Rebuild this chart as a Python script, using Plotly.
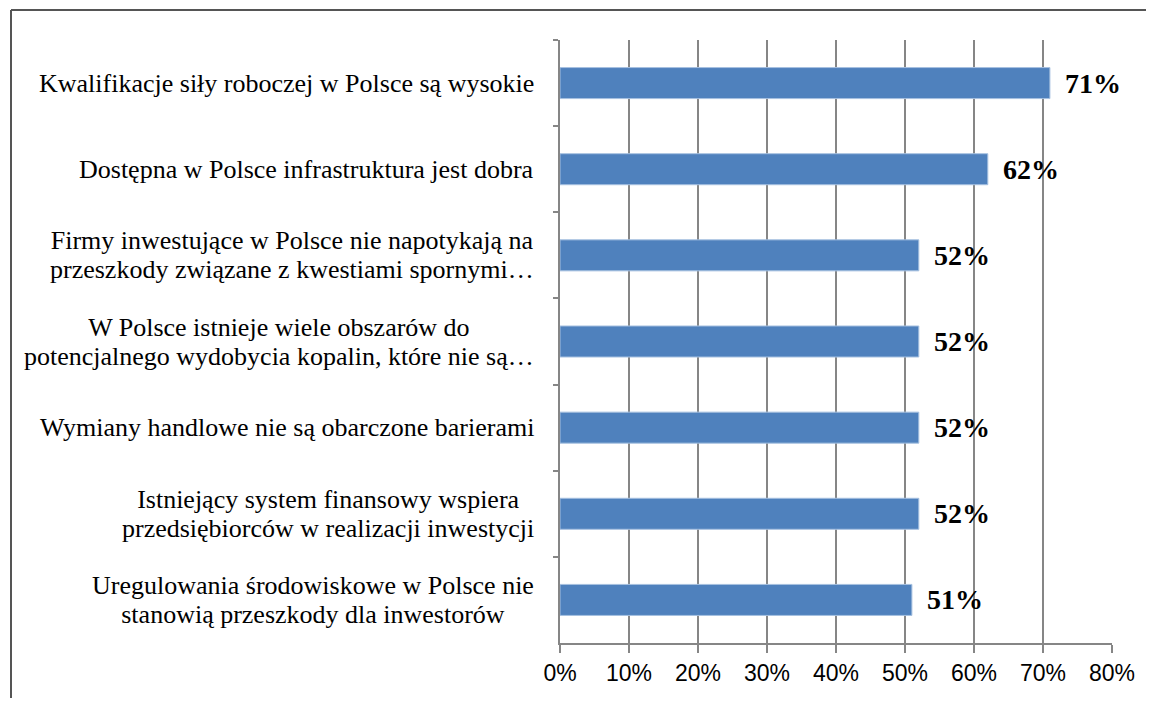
import plotly.graph_objects as go

# categories listed top to bottom
categories = [
    "Kwalifikacje siły roboczej w Polsce są wysokie",
    "Dostępna w Polsce infrastruktura jest dobra",
    "Firmy inwestujące w Polsce nie napotykają na<br>przeszkody związane z kwestiami spornymi…",
    "W Polsce istnieje wiele obszarów do<br>potencjalnego wydobycia kopalin, które nie są…",
    "Wymiany handlowe nie są obarczone barierami",
    "Istniejący system finansowy wspiera<br>przedsiębiorców w realizacji inwestycji",
    "Uregulowania środowiskowe w Polsce nie<br>stanowią przeszkody dla inwestorów",
]
values = [0.71, 0.62, 0.52, 0.52, 0.52, 0.52, 0.51]
x_ticks = [0, 0.1, 0.2, 0.3, 0.4, 0.5, 0.6, 0.7, 0.8]
x_labels = ["0%", "10%", "20%", "30%", "40%", "50%", "60%", "70%", "80%"]

GRID = "#868686"
serif = "Liberation Serif, Times New Roman, serif"

fig = go.Figure(go.Bar(
    x=values, y=categories, orientation="h",
    marker=dict(color="#4F81BD", line=dict(color="#A6C0E0", width=1)),
    hoverinfo="x+y",
))

annotations = []
for cat in categories:
    # small base size keeps the line spacing tight, the span sets the glyph size
    lines = cat.split("<br>")
    text = "<br>".join(f"<span style='font-size:26px'>{ln}</span>" for ln in lines)
    annotations.append(dict(
        x=0, y=cat, xref="paper", yref="y", text=text, showarrow=False,
        xanchor="right", align="center", xshift=-24,
        font=dict(family=serif, size=22, color="#000000"),
    ))
for cat, v in zip(categories, values):
    annotations.append(dict(
        x=v, y=cat, xref="x", yref="y", text=f"{round(v * 100)}%", showarrow=False,
        xanchor="left", xshift=13,
        font=dict(family=serif, size=28, color="#000000", weight="bold"),
    ))

fig.update_layout(
    width=1138, height=690,
    margin=dict(l=552, r=34, t=32, b=55),
    plot_bgcolor="white", paper_bgcolor="white",
    bargap=0.64,
    showlegend=False,
    annotations=annotations,
    xaxis=dict(
        range=[0, 0.8], tickvals=x_ticks, ticktext=x_labels,
        showgrid=True, gridcolor=GRID, gridwidth=1.5,
        showline=True, linecolor=GRID, linewidth=2,
        ticks="outside", ticklen=8, tickcolor=GRID, tickwidth=2,
        tickfont=dict(family="Liberation Sans, Arial, sans-serif", size=23, color="#000000"),
        zeroline=False,
    ),
    yaxis=dict(
        autorange="reversed", showticklabels=False,
        showline=True, linecolor=GRID, linewidth=2,
        ticks="outside", tickson="boundaries", ticklen=5, tickcolor=GRID, tickwidth=2,
        showgrid=False,
    ),
    shapes=[
        # frame around the chart (left and top edges visible)
        dict(type="line", xref="paper", yref="paper",
             x0=(11 - 560) / 552, x1=(1146 - 560) / 552,
             y0=(643 - 10) / 603, y1=(643 - 10) / 603,
             line=dict(color="#555555", width=2)),
        dict(type="line", xref="paper", yref="paper",
             x0=(11 - 560) / 552, x1=(11 - 560) / 552,
             y0=(643 - 10) / 603, y1=(643 - 698) / 603,
             line=dict(color="#555555", width=2)),
    ],
)

fig.write_html("out.html", config={"displayModeBar": False})
